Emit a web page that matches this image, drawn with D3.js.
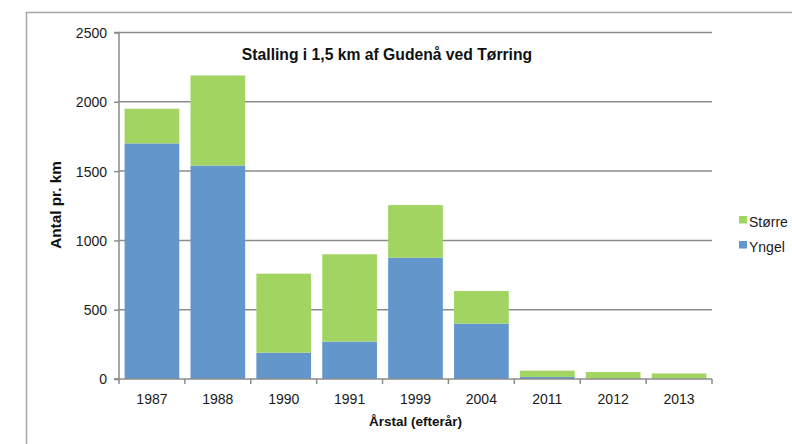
<!DOCTYPE html>
<html><head><meta charset="utf-8">
<script src="https://cdn.jsdelivr.net/npm/d3@7/dist/d3.min.js"></script>
<style>body{margin:0;background:#fff}svg{display:block}text{font-family:"Liberation Sans",Arial,sans-serif}</style>
</head><body><svg id="c" width="792" height="444"></svg>
<script>
const categories = ["1987","1988","1990","1991","1999","2004","2011","2012","2013"];
const yngel  = [1700,1540,190,270,875,400,15,3,2];
const storre = [250,650,570,630,380,235,45,47,38];
const yTicks = [0,500,1000,1500,2000,2500];
const seriesNames = ["Større","Yngel"];
const colors = {"Større":"#a2d462","Yngel":"#6396cb"};

const svg = d3.select("#c");
const L=119, R=712, T=32.5, B=379;
// outer border
svg.append("path").attr("d","M26.5,444 V12.5 H792").attr("fill","none").attr("stroke","#a6a6a6").attr("stroke-width",1.5);

const x = d3.scaleBand().domain(categories).range([L,R]).paddingInner(0.17).paddingOuter(0.085);
const y = d3.scaleLinear().domain([0,2500]).range([B,T]);

// gridlines
svg.append("g").selectAll("line").data(yTicks.filter(d=>d>0)).join("line")
  .attr("x1",L).attr("x2",R).attr("y1",d=>y(d)).attr("y2",d=>y(d))
  .attr("stroke","#8c8c8c").attr("stroke-width",1.5);

const data = categories.map((c,i)=>({cat:c,"Yngel":yngel[i],"Større":storre[i]}));
const stack = d3.stack().keys(["Yngel","Større"])(data);
svg.append("g").selectAll("g").data(stack).join("g").attr("fill",d=>colors[d.key])
  .selectAll("rect").data(d=>d).join("rect")
  .attr("x",d=>x(d.data.cat)).attr("width",x.bandwidth())
  .attr("y",d=>y(d[1])).attr("height",d=>y(d[0])-y(d[1]));

// y axis
const ya = svg.append("g").attr("transform",`translate(${L},0)`)
  .call(d3.axisLeft(y).tickValues(yTicks).tickSize(5).tickPadding(7).tickFormat(d3.format("d")));
ya.select(".domain").attr("stroke","#8c8c8c").attr("stroke-width",1.5).attr("d",`M-5,${T}H0V${B}H-5`);
ya.selectAll(".tick line").attr("stroke","#8c8c8c").attr("stroke-width",1.5);
ya.selectAll("text").attr("font-size",14).attr("fill","#1a1a1a").attr("dy","0.35em");

// x axis
const xa = svg.append("g").attr("transform",`translate(0,${B})`);
xa.append("line").attr("x1",L-5).attr("x2",R).attr("stroke","#8c8c8c").attr("stroke-width",1.5);
const bounds = d3.range(categories.length+1).map(i=>L+i*(R-L)/categories.length);
xa.selectAll("line.t").data(bounds).join("line").attr("class","t")
  .attr("x1",d=>d).attr("x2",d=>d).attr("y1",0).attr("y2",5).attr("stroke","#8c8c8c").attr("stroke-width",1.5);
xa.selectAll("text").data(categories).join("text")
  .attr("x",d=>x(d)+x.bandwidth()/2).attr("y",25).attr("text-anchor","middle")
  .attr("font-size",14).attr("fill","#1a1a1a").text(d=>d);

// titles
svg.append("text").attr("x",387).attr("y",60).attr("text-anchor","middle")
  .attr("font-size",15.7).attr("font-weight","bold").attr("fill","#111").text("Stalling i 1,5 km af Gudenå ved Tørring");
svg.append("text").attr("x",415.5).attr("y",426).attr("text-anchor","middle")
  .attr("font-size",13.5).attr("font-weight","bold").attr("fill","#111").text("Årstal (efterår)");
svg.append("text").attr("transform","translate(61,205) rotate(-90)").attr("text-anchor","middle")
  .attr("font-size",15.3).attr("font-weight","bold").attr("fill","#111").text("Antal pr. km");

// legend
const lg = svg.append("g").selectAll("g").data(seriesNames).join("g")
  .attr("transform",(d,i)=>`translate(739,${216+i*25})`);
lg.append("rect").attr("width",8).attr("height",7.5).attr("fill",d=>colors[d]);
lg.append("text").attr("x",10).attr("y",11).attr("font-size",14).attr("fill","#1a1a1a").text(d=>d);
</script></body></html>
